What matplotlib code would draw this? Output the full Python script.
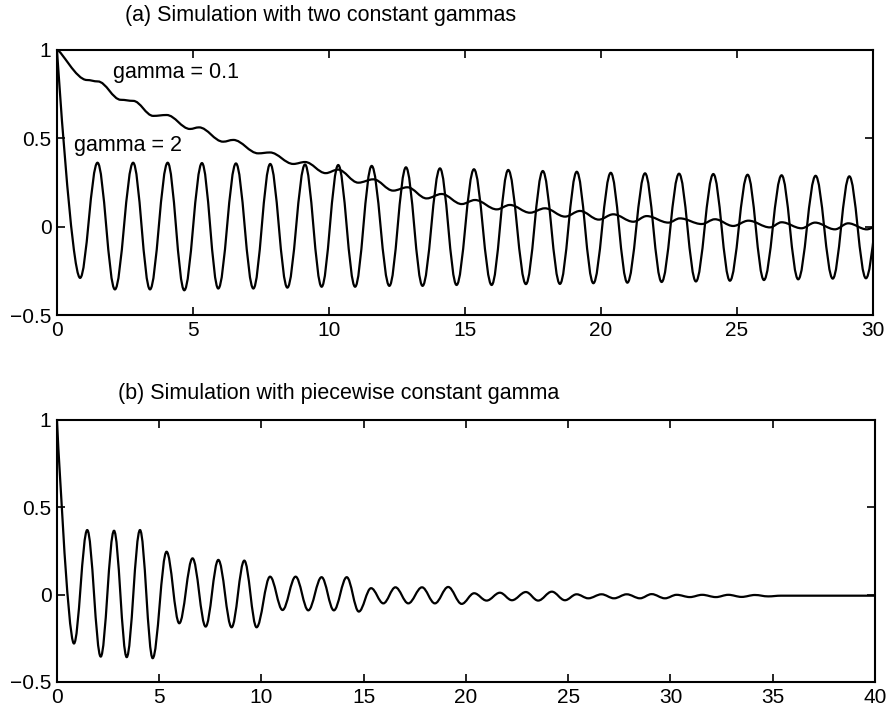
import numpy as np
import matplotlib
matplotlib.use("Agg")
import matplotlib.pyplot as plt
from matplotlib.path import Path
from matplotlib.patches import PathPatch

plt.rcParams['font.family'] = ['Liberation Sans', 'DejaVu Sans']

# (a) gamma = 2 : start value, then peaks and troughs
g2_start = (0.0, 1.0)
g2_trough_t = [0.85, 2.13, 3.42, 4.68, 5.93, 7.22, 8.47, 9.73, 10.96, 12.22, 13.44, 14.69,
               15.98, 17.24, 18.49, 19.72, 20.97, 22.23, 23.49, 24.74, 25.99, 27.25, 28.52, 29.74]
g2_trough_v = [-0.29, -0.355, -0.355, -0.36, -0.35, -0.35, -0.345, -0.34, -0.34, -0.335, -0.335, -0.33,
               -0.33, -0.325, -0.324, -0.32, -0.317, -0.313, -0.31, -0.306, -0.302, -0.298, -0.294, -0.292]
g2_peak_t = [1.49, 2.80, 4.07, 5.33, 6.58, 7.84, 9.12, 10.34, 11.57, 12.83, 14.08, 15.33,
             16.59, 17.86, 19.11, 20.36, 21.62, 22.87, 24.13, 25.39, 26.64, 27.89, 29.13, 30.39]
g2_peak_v = [0.362, 0.362, 0.362, 0.36, 0.358, 0.355, 0.352, 0.349, 0.344, 0.336, 0.330, 0.325,
             0.321, 0.315, 0.311, 0.305, 0.302, 0.300, 0.298, 0.294, 0.291, 0.288, 0.285, 0.283]

# (a) gamma = 0.1 : turning points (shoulders, then small wiggles)
g01_t = [0.0, 1.10, 1.50, 2.35, 2.80, 3.54, 4.03, 4.89, 5.22, 6.11, 6.48, 7.40, 7.83, 8.69, 9.12,
         9.88, 10.33, 11.08, 11.63, 12.36, 12.88, 13.59, 14.14, 14.88, 15.37, 16.17, 16.65, 17.39,
         17.94, 18.68, 19.23, 19.92, 20.45, 21.19, 21.68, 22.48, 22.90, 23.70, 24.19, 24.86, 25.42,
         26.21, 26.64, 27.37, 27.87, 28.60, 29.09, 29.77, 30.30]
g01_v = [1.0, 0.830, 0.822, 0.718, 0.712, 0.627, 0.632, 0.553, 0.562, 0.481, 0.491, 0.415, 0.420,
         0.355, 0.366, 0.303, 0.323, 0.249, 0.268, 0.204, 0.223, 0.160, 0.185, 0.128, 0.151, 0.098,
         0.123, 0.079, 0.104, 0.057, 0.089, 0.040, 0.070, 0.028, 0.060, 0.023, 0.047, 0.015, 0.042,
         0.004, 0.034, -0.004, 0.025, -0.009, 0.023, -0.015, 0.019, -0.015, 0.015]

# (b) piecewise constant gamma : turning points
pw_t = [0.0, 0.83, 1.48, 2.14, 2.79, 3.41, 4.06, 4.68, 5.36, 5.98, 6.63, 7.27, 7.89, 8.54, 9.16,
        9.76, 10.42, 11.03, 11.67, 12.29, 12.94, 13.54, 14.17, 14.76, 15.36, 15.96, 16.55, 17.18,
        17.85, 18.48, 19.13, 19.79, 20.40, 21.01, 21.66, 22.25, 22.93, 23.53, 24.20, 24.84, 25.41,
        25.98, 26.63, 27.24, 27.86, 28.51, 29.08, 29.73, 30.30, 30.95, 31.55, 32.22, 32.83, 33.48,
        34.13, 34.78, 35.40, 40.0]
pw_v = [1.0, -0.28, 0.37, -0.355, 0.366, -0.358, 0.37, -0.364, 0.246, -0.164, 0.208, -0.183, 0.199,
        -0.187, 0.195, -0.187, 0.103, -0.088, 0.103, -0.09, 0.10, -0.09, 0.10, -0.097, 0.037, -0.05,
        0.042, -0.05, 0.042, -0.05, 0.044, -0.053, 0.008, -0.034, 0.011, -0.032, 0.015, -0.034, 0.017,
        -0.032, 0.002, -0.021, 0.002, -0.021, 0.002, -0.021, 0.003, -0.021, -0.001, -0.014, -0.001,
        -0.014, -0.001, -0.013, -0.002, -0.010, -0.006, -0.006]

xticks_a = [0, 5, 10, 15, 20, 25, 30]
xticks_b = [0, 5, 10, 15, 20, 25, 30, 35, 40]
yticks = [-0.5, 0, 0.5, 1]
ytick_labels = ['\u22120.5', '0', '0.5', '1']


def smooth_curve(ax, ts, vs, k=0.36, k_first=0.0):
    # cubic bezier segments with flat tangents at each turning point
    verts = [(ts[0], vs[0])]
    codes = [Path.MOVETO]
    for i in range(len(ts) - 1):
        t0, v0, t1, v1 = ts[i], vs[i], ts[i + 1], vs[i + 1]
        h = t1 - t0
        k0 = k_first if i == 0 else k
        verts += [(t0 + k0 * h, v0), (t1 - k * h, v1), (t1, v1)]
        codes += [Path.CURVE4] * 3
    patch = PathPatch(Path(verts, codes), fill=False, edgecolor='black', lw=1.6,
                      capstyle='round', joinstyle='round')
    ax.add_patch(patch)


def style_axes(ax, xmax, xticks):
    ax.set_xlim(0, xmax)
    ax.set_ylim(-0.5, 1)
    ax.set_xticks(xticks)
    ax.set_xticklabels([str(x) for x in xticks])
    ax.set_yticks(yticks)
    ax.set_yticklabels(ytick_labels)
    ax.tick_params(direction='in', length=6, width=1.2, top=True, right=True,
                   labelsize=15, pad=4)
    for s in ax.spines.values():
        s.set_linewidth(1.5)


fig = plt.figure(figsize=(8.93, 7.15), dpi=100)
ax1 = fig.add_axes([0.0638, 0.5594, 0.9138, 0.3707])
ax2 = fig.add_axes([0.0638, 0.0462, 0.9160, 0.3664])

# merge gamma=2 extrema in time order
g2_pts = [g2_start] + sorted(list(zip(g2_trough_t, g2_trough_v)) + list(zip(g2_peak_t, g2_peak_v)))
g2_t = [p[0] for p in g2_pts]
g2_v = [p[1] for p in g2_pts]

smooth_curve(ax1, g2_t, g2_v)
smooth_curve(ax1, g01_t, g01_v, k_first=0.15)
style_axes(ax1, 30, xticks_a)
ax1.text(2.05, 0.875, 'gamma = 0.1', fontsize=15.5, va='center', ha='left')
ax1.text(0.62, 0.46, 'gamma = 2', fontsize=15.5, va='center', ha='left')

smooth_curve(ax2, pw_t, pw_v)
style_axes(ax2, 40, xticks_b)

fig.text(125 / 893, 1 - 15 / 715, '(a) Simulation with two constant gammas', fontsize=15.5,
         va='center', ha='left')
fig.text(118 / 893, 1 - 393 / 715, '(b) Simulation with piecewise constant gamma', fontsize=15.5,
         va='center', ha='left')

fig.savefig('out.png', dpi=100)
